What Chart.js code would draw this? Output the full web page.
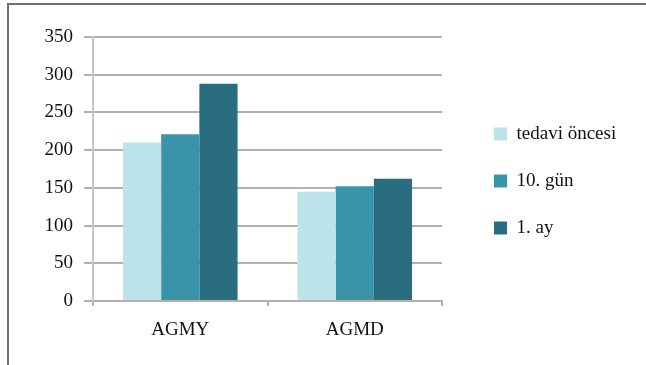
<!DOCTYPE html>
<html>
<head>
<meta charset="utf-8">
<script src="https://cdn.jsdelivr.net/npm/chart.js@4.4.1/dist/chart.umd.min.js"></script>
<style>
  html, body { margin: 0; padding: 0; background: #fff; }
  #wrap { position: relative; width: 646px; height: 365px; }
  #frame {
    position: absolute; left: 7px; top: 3px; right: 0; bottom: 0;
    border-top: 2px solid #6f6f6f; border-left: 2px solid #6f6f6f;
    pointer-events: none;
  }
</style>
</head>
<body>
<div id="wrap">
  <canvas id="chart" width="646" height="365"></canvas>
  <div id="frame"></div>
</div>
<script>
const categories = ['AGMY', 'AGMD'];
const seriesNames = ['tedavi öncesi', '10. gün', '1. ay'];
const beforeTreatment = [210, 145];
const day10 = [221, 152];
const month1 = [288, 162];
const yMax = 350;
const yStep = 50;

const seriesColors = ['#bce2ea', '#3a94a9', '#296d7e'];
const serif = "'Liberation Serif', 'Times New Roman', serif";
const gridColor = '#b0b0b0';

// widen the legend box and push its items away from the plot
const legendSpacing = {
  id: 'legendSpacing',
  beforeInit(chart) {
    const lg = chart.legend;
    const fit = lg.fit;
    lg.fit = function () {
      fit.call(this);
      this.width = 204;
    };
  },
  afterLayout(chart) {
    const lg = chart.legend;
    lg.left = chart.chartArea.right + 24;
    lg.right = lg.left + lg.width;
    lg.top = 0;
    lg.bottom = 362;
  }
};

const ctx = document.getElementById('chart').getContext('2d');

new Chart(ctx, {
  type: 'bar',
  data: {
    labels: categories,
    datasets: [
      { label: seriesNames[0], data: beforeTreatment, backgroundColor: seriesColors[0] },
      { label: seriesNames[1], data: day10, backgroundColor: seriesColors[1] },
      { label: seriesNames[2], data: month1, backgroundColor: seriesColors[2] }
    ]
  },
  options: {
    responsive: false,
    animation: false,
    layout: { padding: { top: 37, left: 0, right: 0, bottom: 0 } },
    datasets: { bar: { categoryPercentage: 0.657, barPercentage: 1 } },
    scales: {
      x: {
        grid: { drawOnChartArea: false, color: gridColor, lineWidth: 2, tickLength: 5, offset: true },
        border: { color: gridColor, width: 2 },
        ticks: { color: '#111', font: { family: serif, size: 19 }, padding: 13 },
        afterFit(scale) { scale.height = 64; }
      },
      y: {
        min: 0,
        max: yMax,
        grid: { color: gridColor, lineWidth: 2, tickLength: 9 },
        border: { color: '#c6c6c6', width: 2 },
        ticks: { stepSize: yStep, color: '#111', font: { family: serif, size: 19 }, padding: 11 },
        afterFit(scale) { scale.width = 93; }
      }
    },
    plugins: {
      legend: {
        position: 'right',
        labels: {
          boxWidth: 13,
          boxHeight: 13,
          padding: 28,
          color: '#111',
          font: { family: serif, size: 19 }
        }
      },
      tooltip: { enabled: false }
    }
  },
  plugins: [legendSpacing]
});
</script>
</body>
</html>
